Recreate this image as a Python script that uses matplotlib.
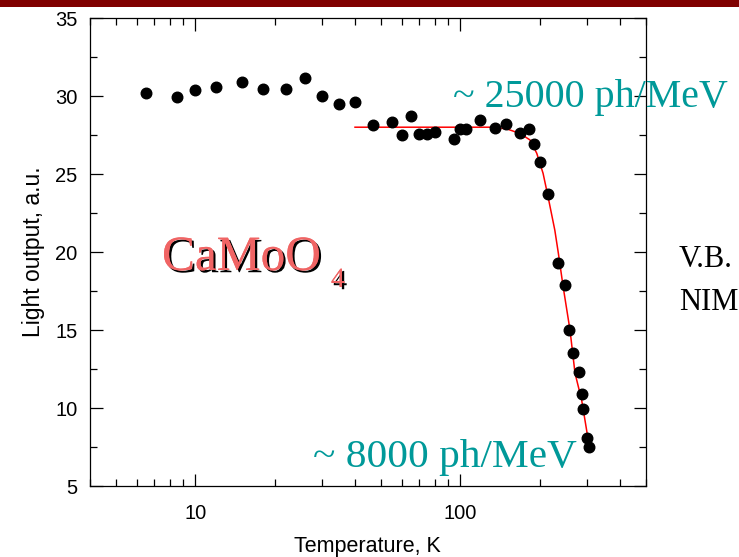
import matplotlib
matplotlib.use("Agg")
import matplotlib.pyplot as plt
import matplotlib.patheffects as pe
from matplotlib.patches import Rectangle
from matplotlib.ticker import MultipleLocator, FixedLocator, NullFormatter

# ---- data ----
temp_K = [6.5, 8.5, 10.0, 12.0, 15.0, 18.0, 22.0, 26.0, 30.0, 34.8, 40.0,
          46.9, 55.0, 60.0, 64.9, 70.0, 75.0, 80.0, 94.5, 100.0, 105.0,
          119.0, 134.5, 149.0, 168.0, 182.0, 190.0, 199.5, 214.0, 234.0,
          248.0, 257.0, 266.5, 280.0, 286.5, 290.5, 301.0, 305.5]
light = [30.17, 29.95, 30.38, 30.56, 30.88, 30.43, 30.45, 31.15, 30.02, 29.47, 29.63,
         28.14, 28.35, 27.50, 28.72, 27.56, 27.56, 27.71, 27.22, 27.90, 27.90,
         28.45, 27.95, 28.20, 27.60, 27.90, 26.95, 25.77, 23.70, 19.31,
         17.88, 15.00, 13.54, 12.33, 10.90, 9.92, 8.06, 7.48]

fit_T = [40.0, 129.0, 149.0, 167.7, 183.0, 194.0, 205.0, 214.0, 227.0, 234.0,
         244.0, 259.0, 270.5, 286.6, 303.5, 306.0]
fit_L = [28.0, 28.0, 27.9, 27.6, 27.18, 26.33, 25.04, 23.55, 21.4, 19.94,
         17.78, 15.0, 12.24, 10.51, 7.95, 7.5]

x_major = [10, 100]
x_major_labels = ["10", "100"]
y_major = [5, 10, 15, 20, 25, 30, 35]

label_high = "~ 25000 ph/MeV"
label_low = "~ 8000 ph/MeV"
compound_main = "CaMoO"
compound_sub = "4"
ref_lines = ["V.B.", "NIM"]

# ---- figure ----
fig = plt.figure(figsize=(7.39, 5.57), dpi=100)
ax = fig.add_axes([90/739, 1 - 486/557, (645.7 - 90)/739, (486 - 18)/557])

ax.set_xscale("log")
ax.set_xlim(4, 500)
ax.set_ylim(5, 35)

ax.plot(fit_T, fit_L, color="#ff0000", lw=1.1, zorder=2)
ax.plot(temp_K, light, "o", color="black", ms=7.6, zorder=3)

ax.xaxis.set_major_locator(FixedLocator(x_major))
ax.set_xticklabels(x_major_labels)
ax.xaxis.set_minor_formatter(NullFormatter())
ax.yaxis.set_major_locator(FixedLocator(y_major))
ax.yaxis.set_minor_locator(MultipleLocator(2.5))

ax.tick_params(which="both", direction="in", top=True, right=True, width=0.9,
               labelsize=14.5, labelfontfamily="Liberation Sans")
ax.tick_params(which="major", length=9)
ax.tick_params(which="minor", length=5)
ax.tick_params(axis="y", pad=9)
ax.tick_params(axis="x", pad=13)
for s in ax.spines.values():
    s.set_linewidth(0.9)

ax.set_xlabel("Temperature, K", fontsize=15.5, family="Liberation Sans", labelpad=9)
ax.set_ylabel("Light output, a.u.", fontsize=16.5, family="Liberation Sans", labelpad=7)

# top red band
fig.patches.append(Rectangle((0, 1 - 7/557), 1, 7/557, transform=fig.transFigure,
                             facecolor="#800000", edgecolor="none", zorder=10))

teal = "#009999"
fig.text(453/739, 1 - 107/557, label_high, color=teal, fontsize=28.8,
         family="Liberation Serif", va="baseline", ha="left", zorder=20)
fig.text(313/739, 1 - 467/557, label_low, color=teal, fontsize=29.8,
         family="Liberation Serif", va="baseline", ha="left", zorder=20)

shadow = [pe.withSimplePatchShadow(offset=(1.6, -1.6), shadow_rgbFace="black", alpha=1.0),
          pe.Normal()]
fig.text(162/739, 1 - 270/557, compound_main, color="#f06464", fontsize=35.5,
         family="Liberation Serif", va="baseline", ha="left", path_effects=shadow, zorder=20)
fig.text(331/739, 1 - 287/557, compound_sub, color="#f06464", fontsize=20,
         family="Liberation Serif", va="baseline", ha="left", path_effects=shadow, zorder=20)

fig.text(679/739, 1 - 267/557, ref_lines[0], color="black", fontsize=22,
         family="Liberation Serif", va="baseline", ha="left")
fig.text(679/739, 1 - 310/557, ref_lines[1], color="black", fontsize=22,
         family="Liberation Serif", va="baseline", ha="left")

fig.savefig("out.png", dpi=100)
